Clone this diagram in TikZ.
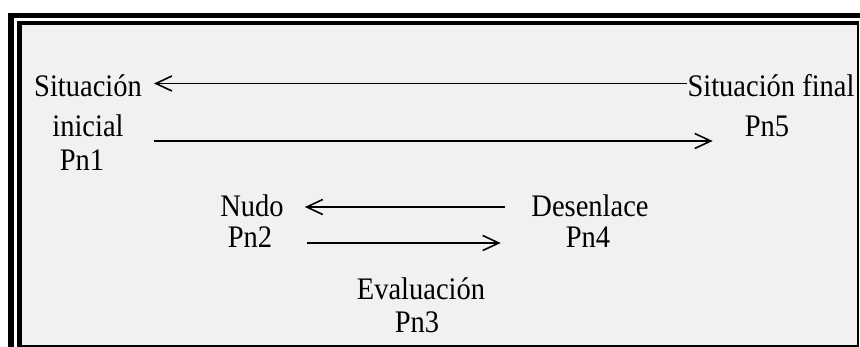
\documentclass[tikz,border=0pt]{standalone}
\usepackage{fontspec}
\setmainfont{Liberation Serif}
\usetikzlibrary{arrows.meta,calc}
\definecolor{panel}{HTML}{F1F1F1}
\newcommand{\tall}[1]{\scalebox{1}[1.1]{#1}}
\tikzset{
  lbl/.style={anchor=base,inner sep=0pt,font=\fontsize{28.5}{34}\selectfont},
  arr/.style={line width=1.6pt,-{Straight Barb[length=16pt,width=15pt]}}
}
\begin{document}
\begin{tikzpicture}[x=1pt,y=-1pt]
\useasboundingbox (0,0) rectangle (860,347);
% panel background
\fill[panel] (22,25) rectangle (857,345);
% double rule on top and left
\fill[black] (8,13) rectangle (860,18);
\fill[black] (8,13) rectangle (14,347);
\fill[black] (17,21) rectangle (859,25);
\fill[black] (17,21) rectangle (22,347);
% thin rule on right and bottom
\fill[black] (857,25) rectangle (859,347);
\fill[black] (22,345) rectangle (859,347);

% labels
\node[lbl] (si1) at (88,96.5) {\tall{Situación}};
\node[lbl] (si2) at (88,137) {\tall{inicial}};
\node[lbl] (pn1) at (82,171) {\tall{Pn1}};
\node[lbl] (sf1) at (771,96.5) {\tall{Situación final}};
\node[lbl] (pn5) at (767,137) {\tall{Pn5}};
\node[lbl] (nudo) at (252,217) {\tall{Nudo}};
\node[lbl] (pn2) at (250,248) {\tall{Pn2}};
\node[lbl] (des) at (590,217) {\tall{Desenlace}};
\node[lbl] (pn4) at (588,248) {\tall{Pn4}};
\node[lbl] (eva) at (421,300) {\tall{Evaluación}};
\node[lbl] (pn3) at (417,333) {\tall{Pn3}};

% connectors
\draw[arr] ($(sf1.base west)+(0,-13)$) -- ($(si1.base east)+(12,-13)$);
\draw[arr] ($(si1.base east |- si2.base)+(12,4)$) -- ($(pn5.base west)+(-32,4)$);
\draw[arr] ($(des.base west)+(-26,-10)$) -- ($(nudo.base east)+(21,-10)$);
\draw[arr] ($(pn2.base east)+(35,-5)$) -- ($(pn4.base west)+(-65,-5)$);
\end{tikzpicture}
\end{document}
